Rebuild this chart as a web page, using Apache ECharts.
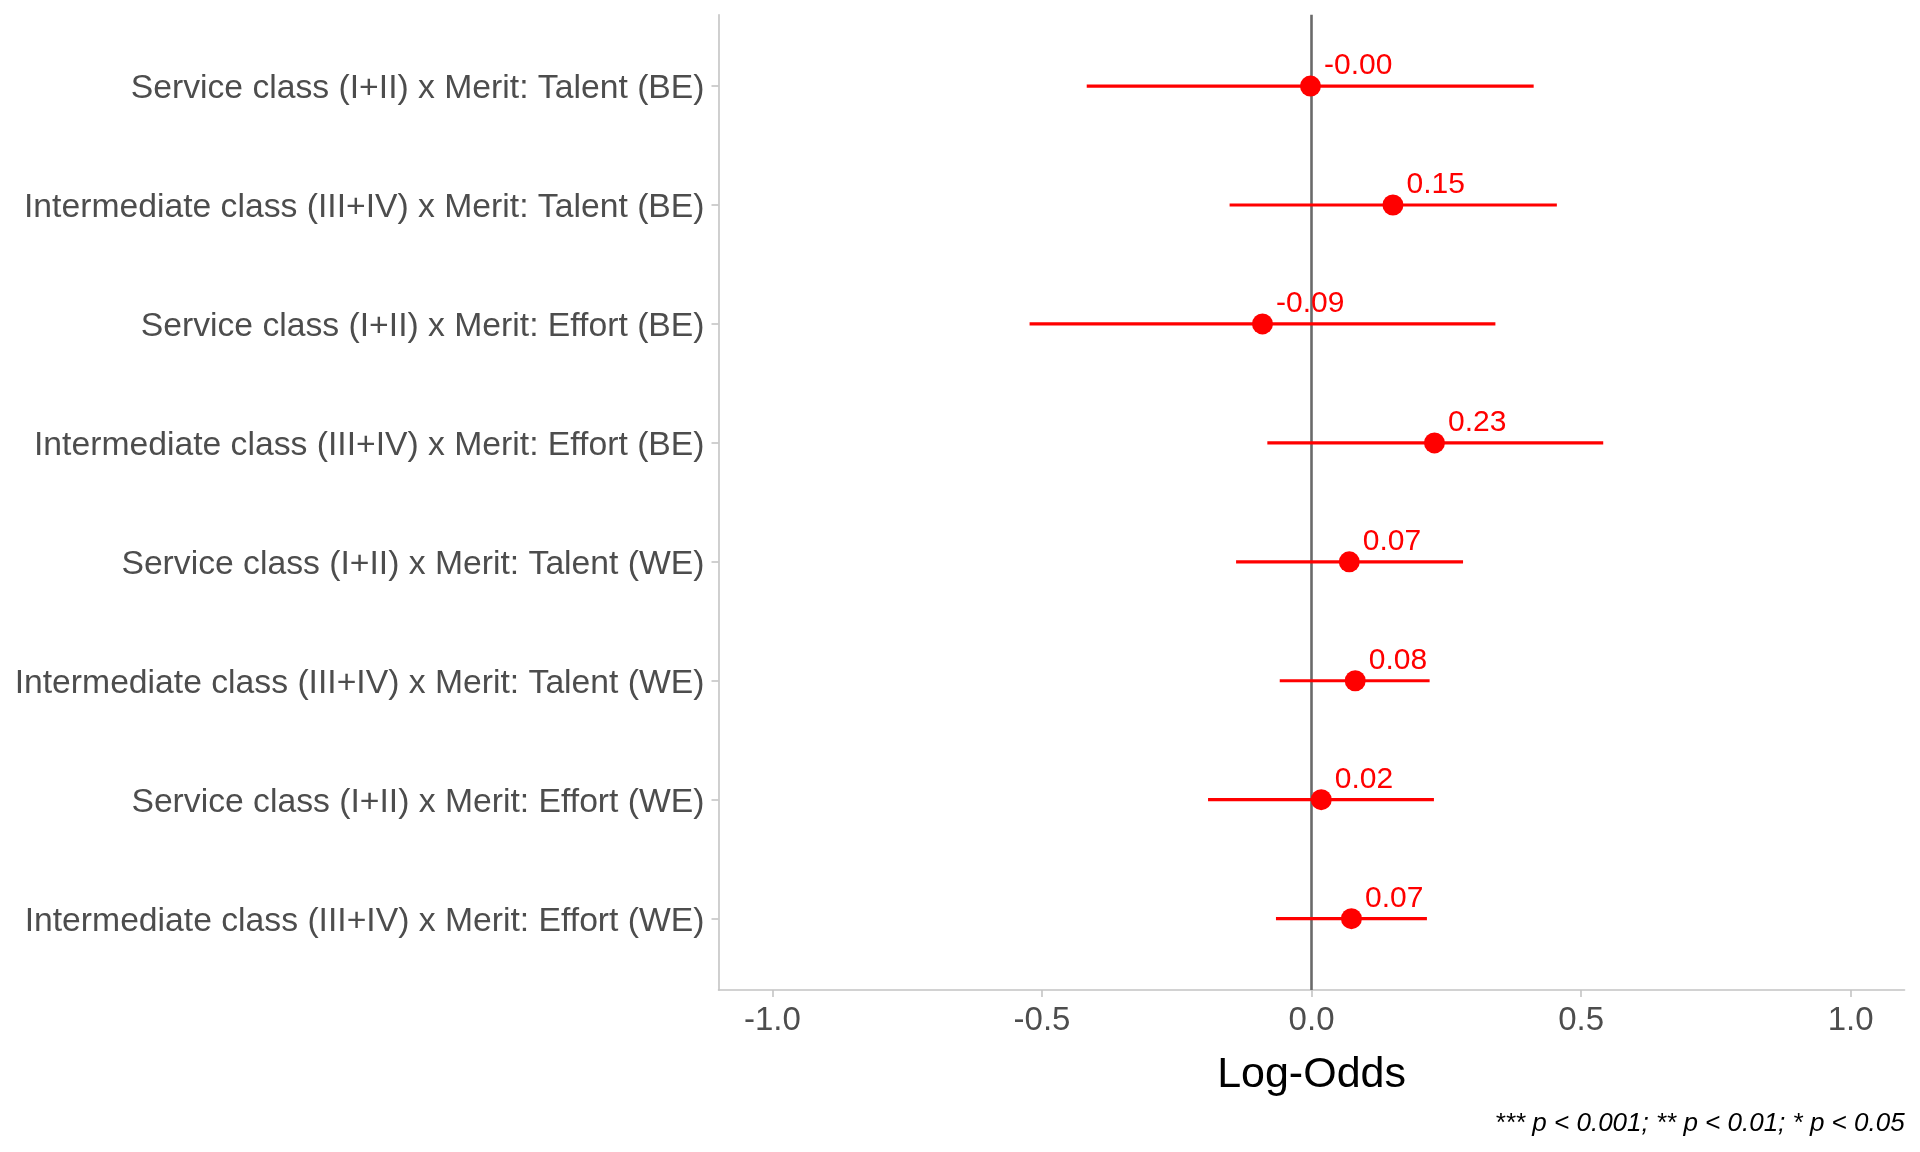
<!DOCTYPE html>
<html>
<head>
<meta charset="utf-8">
<script src="https://cdn.jsdelivr.net/npm/echarts@6/dist/echarts.min.js"></script>
<style>
html,body{margin:0;padding:0;background:#fff;}
#chart{width:1920px;height:1152px;}
</style>
</head>
<body>
<div id="chart"></div>
<script>
const categories = [
  "Service class (I+II) x Merit: Talent (BE)",
  "Intermediate class (III+IV) x Merit: Talent (BE)",
  "Service class (I+II) x Merit: Effort (BE)",
  "Intermediate class (III+IV) x Merit: Effort (BE)",
  "Service class (I+II) x Merit: Talent (WE)",
  "Intermediate class (III+IV) x Merit: Talent (WE)",
  "Service class (I+II) x Merit: Effort (WE)",
  "Intermediate class (III+IV) x Merit: Effort (WE)"
];
const estimates = [-0.002, 0.151, -0.091, 0.228, 0.070, 0.081, 0.018, 0.074];
const ciLower  = [-0.417, -0.152, -0.523, -0.082, -0.140, -0.059, -0.192, -0.066];
const ciUpper  = [0.412, 0.455, 0.341, 0.541, 0.281, 0.219, 0.227, 0.214];
const xTicks = [-1.0, -0.5, 0.0, 0.5, 1.0];
const xTickLabels = ["-1.0", "-0.5", "0.0", "0.5", "1.0"];
const caption = "*** p < 0.001; ** p < 0.01; * p < 0.05";

const idx = categories.map((c, i) => i);
const pointData = estimates.map((e, i) => [e, i]);
const barData = ciLower.map((l, i) => [l, ciUpper[i], i]);

const FONT = "Liberation Sans";
const chart = echarts.init(document.getElementById('chart'));
chart.setOption({
  animation: false,
  backgroundColor: '#ffffff',
  textStyle: { fontFamily: FONT },
  grid: { left: 718.5, right: 15.4, top: 14.7, bottom: 162 },
  xAxis: {
    type: 'value', min: -1.1, max: 1.1,
    axisLine: { show: true, onZero: false, lineStyle: { color: '#c4c4c4', width: 1.6 } },
    axisTick: { show: true, customValues: xTicks, length: 7, lineStyle: { color: '#c4c4c4', width: 1.6 } },
    axisLabel: {
      customValues: xTicks, fontSize: 33, color: '#4d4d4d', margin: 14, fontFamily: FONT,
      formatter: v => { const k = xTicks.findIndex(t => Math.abs(t - v) < 1e-9); return k >= 0 ? xTickLabels[k] : ''; }
    },
    splitLine: { show: false },
    name: 'Log-Odds', nameLocation: 'middle', nameGap: 64,
    nameTextStyle: { fontSize: 43, color: '#000000', fontFamily: FONT }
  },
  yAxis: {
    type: 'value', min: -0.6, max: 7.6, inverse: true,
    axisLine: { show: true, onZero: false, lineStyle: { color: '#c4c4c4', width: 1.6 } },
    axisTick: { show: true, customValues: idx, length: 7, lineStyle: { color: '#c4c4c4', width: 1.6 } },
    axisLabel: {
      customValues: idx, margin: 14,
      formatter: v => { const c = categories[Math.round(v)]; return c ? '{a|' + c + '}' : ''; },
      rich: { a: { fontSize: 33.7, color: '#4d4d4d', fontFamily: FONT, padding: [6, 0, 0, 0] } }
    },
    splitLine: { show: false }
  },
  series: [
    {
      type: 'custom',
      z: 2,
      data: barData,
      encode: { x: [0, 1], y: 2 },
      renderItem: function (params, api) {
        const a = api.coord([api.value(0), api.value(2)]);
        const b = api.coord([api.value(1), api.value(2)]);
        return { type: 'line', shape: { x1: a[0], y1: a[1], x2: b[0], y2: b[1] },
                 style: { stroke: '#ff0000', lineWidth: 3.2 } };
      },
      markLine: {
        silent: true, symbol: 'none', z: 1,
        lineStyle: { color: '#6a6a6a', width: 2.6, type: 'solid' },
        label: { show: false },
        data: [{ xAxis: 0 }]
      }
    },
    {
      type: 'scatter',
      z: 3,
      data: pointData,
      symbol: 'circle', symbolSize: 21,
      itemStyle: { color: '#ff0000', opacity: 1 },
      label: {
        show: true, position: [24, -9.5], align: 'left', verticalAlign: 'middle',
        fontSize: 30, color: '#ff0000', fontFamily: FONT,
        formatter: p => p.value[0].toFixed(2)
      }
    }
  ],
  graphic: [
    { type: 'text', right: 15.4, top: 1111,
      style: { text: caption, fontSize: 26, fontStyle: 'italic', fill: '#000000', fontFamily: FONT, textAlign: 'right' } }
  ]
});
</script>
</body>
</html>
